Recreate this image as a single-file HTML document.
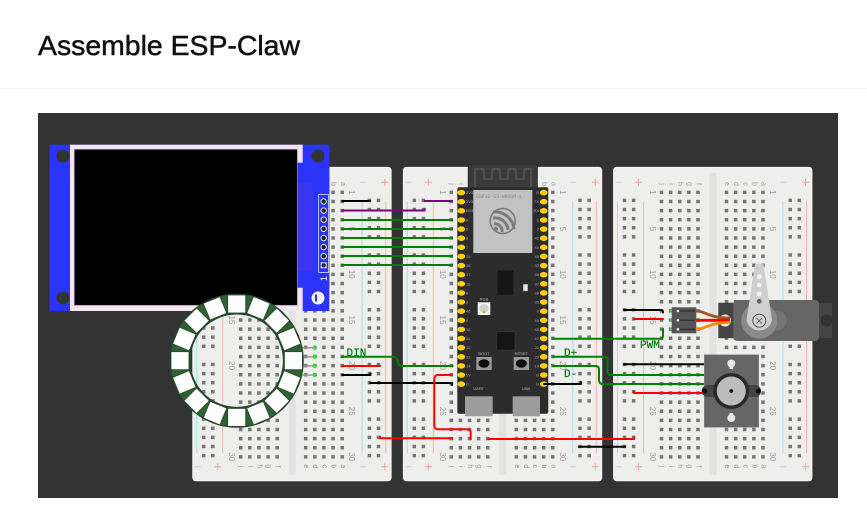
<!DOCTYPE html>
<html><head><meta charset="utf-8"><title>Assemble ESP-Claw</title>
<style>
html,body{margin:0;padding:0;background:#fff;width:867px;height:506px;overflow:hidden}
svg{display:block}
text{font-family:"Liberation Sans",sans-serif}
.n{font-size:8px;fill:#999;text-anchor:middle;dominant-baseline:central}
.m{font-size:7px;fill:#999;text-anchor:middle;dominant-baseline:central}
.l{font-size:4px;fill:#aaa}
.r{font-size:4px;fill:#aaa;text-anchor:end}
.t{font-size:4px;fill:#bbb;text-anchor:middle}
.w{fill:none;stroke-width:2;stroke-linejoin:round;stroke-linecap:round}
.lab{font-size:11px;fill:#008000;stroke:#008000;stroke-width:.2}
.d{filter:blur(.35px)}
</style></head><body>
<svg width="867" height="506" viewBox="0 0 867 506" xmlns="http://www.w3.org/2000/svg">
<defs>
<g id="pc" fill="#ffcf0a">
<ellipse cy="192.600" rx="3.800" ry="2.800"/><ellipse cy="201.700" rx="3.800" ry="2.800"/><ellipse cy="210.800" rx="3.800" ry="2.800"/><ellipse cy="220" rx="3.800" ry="2.800"/><ellipse cy="229.100" rx="3.800" ry="2.800"/><ellipse cy="238.200" rx="3.800" ry="2.800"/><ellipse cy="247.300" rx="3.800" ry="2.800"/><ellipse cy="256.400" rx="3.800" ry="2.800"/><ellipse cy="265.600" rx="3.800" ry="2.800"/><ellipse cy="274.700" rx="3.800" ry="2.800"/><ellipse cy="283.800" rx="3.800" ry="2.800"/><ellipse cy="292.900" rx="3.800" ry="2.800"/><ellipse cy="302" rx="3.800" ry="2.800"/><ellipse cy="311.200" rx="3.800" ry="2.800"/><ellipse cy="320.300" rx="3.800" ry="2.800"/><ellipse cy="329.400" rx="3.800" ry="2.800"/><ellipse cy="338.500" rx="3.800" ry="2.800"/><ellipse cy="347.600" rx="3.800" ry="2.800"/><ellipse cy="356.800" rx="3.800" ry="2.800"/><ellipse cy="365.900" rx="3.800" ry="2.800"/><ellipse cy="375" rx="3.800" ry="2.800"/><ellipse cy="384.100" rx="3.800" ry="2.800"/>
</g>
<g id="bb">
<rect x="0" y="0" width="198.500" height="313.500" rx="3" fill="#eeeeec" stroke="#f8f8f8" stroke-width="0.8"/>
<rect x="96" y="5.500" width="7" height="302" fill="#e2e2e2"/>
<line x1="4" y1="34" x2="4" y2="286" stroke="#a8dcea" stroke-width="1"/>
<line x1="30" y1="34" x2="30" y2="286" stroke="#f3b4ac" stroke-width="1"/>
<line x1="169.400" y1="34" x2="169.400" y2="286" stroke="#a8dcea" stroke-width="1"/>
<line x1="193" y1="34" x2="193" y2="286" stroke="#f3b4ac" stroke-width="1"/>
<g stroke-width="1" fill="none">
<path d="M2 15h6M167 15h6M2 299.500h6M167 299.500h6" stroke="#a8dcea"/>
<path d="M21.500 15h7M25 11.500v7M188.500 15h7M192 11.500v7M21.500 299.500h7M25 296v7M188.500 299.500h7M192 296v7" stroke="#f3a49c"/>
</g>
<g stroke="#767676" stroke-width="3.500" stroke-dasharray="3.500 5.620" fill="none">
<path d="M48 23.300V297M57.120 23.300V297M66.240 23.300V297M75.360 23.300V297M84.480 23.300V297M113 23.300V297M122.120 23.300V297M131.240 23.300V297M140.360 23.300V297M149.480 23.300V297"/>
</g>
<g stroke="#767676" stroke-width="3.500" stroke-dasharray="3.500 5.620 3.500 5.620 3.500 5.620 3.500 5.620 3.500 14.720" fill="none">
<path d="M11 31.300V296M20.120 31.300V296M176.700 31.300V296M185.820 31.300V296"/>
</g>
<text class="n" transform="translate(39,25) rotate(90)">1</text><text class="n" transform="translate(39,61.500) rotate(90)">5</text><text class="n" transform="translate(39,107) rotate(90)">10</text><text class="n" transform="translate(39,152.700) rotate(90)">15</text><text class="n" transform="translate(39,198.300) rotate(90)">20</text><text class="n" transform="translate(39,243.900) rotate(90)">25</text><text class="n" transform="translate(39,289.500) rotate(90)">30</text>
<text class="n" transform="translate(159,25) rotate(90)">1</text><text class="n" transform="translate(159,61.500) rotate(90)">5</text><text class="n" transform="translate(159,107) rotate(90)">10</text><text class="n" transform="translate(159,152.700) rotate(90)">15</text><text class="n" transform="translate(159,198.300) rotate(90)">20</text><text class="n" transform="translate(159,243.900) rotate(90)">25</text><text class="n" transform="translate(159,289.500) rotate(90)">30</text>
<text class="m" transform="translate(48,16.700) rotate(90)">j</text><text class="m" transform="translate(57.100,16.700) rotate(90)">i</text><text class="m" transform="translate(66.200,16.700) rotate(90)">h</text><text class="m" transform="translate(75.400,16.700) rotate(90)">g</text><text class="m" transform="translate(84.500,16.700) rotate(90)">f</text>
<text class="m" transform="translate(113,16.700) rotate(90)">e</text><text class="m" transform="translate(122,16.700) rotate(90)">d</text><text class="m" transform="translate(131.300,16.700) rotate(90)">c</text><text class="m" transform="translate(140.300,16.700) rotate(90)">b</text><text class="m" transform="translate(149.700,16.700) rotate(90)">a</text>
<text class="m" transform="translate(48,299) rotate(90)">j</text><text class="m" transform="translate(57.100,299) rotate(90)">i</text><text class="m" transform="translate(66.200,299) rotate(90)">h</text><text class="m" transform="translate(75.400,299) rotate(90)">g</text><text class="m" transform="translate(84.500,299) rotate(90)">f</text>
<text class="m" transform="translate(113,299) rotate(90)">e</text><text class="m" transform="translate(122,299) rotate(90)">d</text><text class="m" transform="translate(131.300,299) rotate(90)">c</text><text class="m" transform="translate(140.300,299) rotate(90)">b</text><text class="m" transform="translate(149.700,299) rotate(90)">a</text>
</g>
<rect id="led" x="227.700" y="295" width="18" height="18" fill="#fff" stroke="#24452a" stroke-width="0.8"/>
</defs>

<rect width="867" height="506" fill="#fff"/>
<text x="38" y="55" font-size="28" fill="#111" stroke="#111" stroke-width="0.5" textLength="262" lengthAdjust="spacingAndGlyphs">Assemble ESP-Claw</text>
<rect x="0" y="88" width="867" height="1" fill="#efefef"/>
<rect x="38" y="113" width="800" height="385" fill="#333333"/>

<g class="d">
<use href="#bb" x="192.700" y="167.300"/>
<use href="#bb" x="403.300" y="167.300"/>
<use href="#bb" x="613.500" y="167.300"/>

<!-- ESP32 board -->
<rect x="468.300" y="164.300" width="69" height="24" fill="#3a3a3a" stroke="#2b2b2b"/>
<path d="M475 187V169H484V179H492V169H500V179H508V169H516V179H524V169H531V187" fill="none" stroke="#5e5e5e" stroke-width="1.300"/>
<rect x="457.300" y="187.300" width="91" height="226.400" rx="2" fill="#2c2c2c"/>
<rect x="473.300" y="190" width="59" height="63" fill="#c2c2c2"/>
<text x="476" y="198" font-size="5" fill="#8a8a8a" style="font-family:'Liberation Mono',monospace" textLength="46">ESP32-S3-WROOM-1</text>
<circle cx="502.700" cy="221" r="12.500" fill="none" stroke="#7c7c7c" stroke-width="1.600"/>
<path d="M493 212a19 19 0 0 1 21 17M493 218a13 13 0 0 1 15 12M494 224a7 7 0 0 1 8 8" fill="none" stroke="#7c7c7c" stroke-width="3"/>
<circle cx="496" cy="229" r="2.200" fill="#7c7c7c"/>
<use href="#pc" x="461.300"/>
<use href="#pc" x="543.700"/>
<text class="l" x="466" y="194">3V3</text><text class="l" x="466" y="203">3V3</text><text class="l" x="466" y="212">RST</text><text class="l" x="466" y="221.500">4</text><text class="l" x="466" y="230.500">5</text><text class="l" x="466" y="239.700">6</text><text class="l" x="466" y="248.800">7</text><text class="l" x="466" y="258">15</text><text class="l" x="466" y="267">16</text><text class="l" x="466" y="276">17</text><text class="l" x="466" y="285.300">18</text><text class="l" x="466" y="294.400">8</text><text class="l" x="466" y="303.500">3</text><text class="l" x="466" y="312.700">46</text><text class="l" x="466" y="321.800">9</text><text class="l" x="466" y="330.900">10</text><text class="l" x="466" y="340">11</text><text class="l" x="466" y="349.100">12</text><text class="l" x="466" y="358.300">13</text><text class="l" x="466" y="367.400">14</text><text class="l" x="466" y="376.500">5V</text><text class="l" x="466" y="385.600">G</text>
<text class="r" x="539" y="194">G</text><text class="r" x="539" y="203">TX</text><text class="r" x="539" y="212">RX</text><text class="r" x="539" y="221.500">1</text><text class="r" x="539" y="230.500">2</text><text class="r" x="539" y="239.700">42</text><text class="r" x="539" y="248.800">41</text><text class="r" x="539" y="258">40</text><text class="r" x="539" y="267">39</text><text class="r" x="539" y="276">38</text><text class="r" x="539" y="285.300">37</text><text class="r" x="539" y="294.400">36</text><text class="r" x="539" y="303.500">35</text><text class="r" x="539" y="312.700">0</text><text class="r" x="539" y="321.800">45</text><text class="r" x="539" y="330.900">48</text><text class="r" x="539" y="340">47</text><text class="r" x="539" y="349.100">21</text><text class="r" x="539" y="358.300">20</text><text class="r" x="539" y="367.400">19</text><text class="r" x="539" y="376.500">G</text><text class="r" x="539" y="385.600">G</text>
<rect x="497.700" y="270.300" width="15.600" height="24.400" fill="#161616"/>
<rect x="523.300" y="284.300" width="4.400" height="6.700" fill="#e8e8e8" stroke="#888" stroke-width="0.4"/>
<text class="t" x="484" y="300.500">RGB</text>
<rect x="477.700" y="302.300" width="12.600" height="12.700" fill="#f5f5f5"/>
<circle cx="484" cy="308.500" r="4.600" fill="#d0d0d0"/><rect x="483" y="311" width="2" height="2" fill="#c8a020"/>
<rect x="496.700" y="331.700" width="18.300" height="18.300" rx="2" fill="#151515" stroke="#3c3c3c" stroke-width="0.5"/>
<text class="t" x="484" y="355">BOOT</text><text class="t" x="521.300" y="355">RESET</text>
<rect x="476.300" y="357" width="15.400" height="13" fill="#9a9a9a"/><ellipse cx="484" cy="363.500" rx="5.500" ry="4.300" fill="#0c0c0c"/>
<rect x="513.700" y="357" width="15.400" height="13" fill="#9a9a9a"/><ellipse cx="521.400" cy="363.500" rx="5.500" ry="4.300" fill="#0c0c0c"/>
<text class="t" x="478.700" y="390">UART</text><text class="t" x="526" y="390">USB</text>
<rect x="465" y="396.300" width="27.700" height="20" fill="#9c9c9c"/>
<rect x="512.700" y="396.300" width="27.300" height="20" fill="#9c9c9c"/>

<!-- wires -->
<g class="w">
<path d="M342.300 201H370" stroke="#000"/>
<path d="M342.300 210.500H424.700V209M424.700 201H452" stroke="#800080"/>
<path d="M342.300 220H452M342.300 229H452M342.300 238H452M342.300 247H452M342.300 256H452M342.300 265H452" stroke="#008000"/>
<path d="M342.300 356.700H393Q396 356.700 397 359L398 363Q399 366 402 366H452.700" stroke="#008000"/>
<path d="M342.300 366H380" stroke="#f00"/>
<path d="M342.300 375H370.500V373.500" stroke="#000"/>
<path d="M370 383H452V385" stroke="#000"/>
<path d="M380 436.800V438.300H452" stroke="#f00"/>
<path d="M451.700 375H438Q434.300 375 434.300 380V425Q434.300 429.300 438 429.300H467Q470.700 429.300 470.700 433V439" stroke="#f00"/>
<path d="M488 439H634V437.500" stroke="#f00"/>
<path d="M553 338.700H660Q663 338.700 663 335.700V329" stroke="#008000"/>
<path d="M553 356.700H604Q607.500 356.700 607.500 360V371Q607.500 375 611 375H704" stroke="#008000"/>
<path d="M553 366H595.500Q599 366 599 369.500V380Q599 384 603 384H704" stroke="#008000"/>
<path d="M544 384H581V382" stroke="#000"/>
<path d="M579 446.700H625" stroke="#000"/>
<path d="M624 310H661Q663 310 663 312.500" stroke="#000"/>
<path d="M634 319H663" stroke="#f00"/>
<path d="M624 364.300H704" stroke="#000"/>
<path d="M634 391V393H702" stroke="#f00"/>
</g>
<g style="font-family:'Liberation Mono',monospace">
<text class="lab" style="font-family:'Liberation Mono',monospace" x="346.500" y="356">DIN</text>
<text class="lab" style="font-family:'Liberation Mono',monospace" x="564" y="356">D+</text>
<text class="lab" style="font-family:'Liberation Mono',monospace" x="564" y="377">D-</text>
<text class="lab" style="font-family:'Liberation Mono',monospace" x="640" y="348">PWM</text>
</g>

<!-- Ring pins -->
<g stroke="#999" stroke-width="1.500"><path d="M300 347.700H315M300 356.700H315M300 365.800H315M300 375H315"/></g>
<g fill="#35d835"><circle cx="315" cy="347.700" r="2.100"/><circle cx="315" cy="356.700" r="2.100"/><circle cx="315" cy="365.800" r="2.100"/><circle cx="315" cy="375" r="2.100"/></g>

<!-- LCD -->
<rect x="49.700" y="144.700" width="279.600" height="166.300" fill="#2a34fb"/>
<rect x="70" y="144.700" width="232.700" height="166.300" fill="#f6e4f6"/>
<rect x="297.300" y="162.700" width="32" height="125" fill="#2a34fb"/>
<rect x="297.300" y="183" width="15.700" height="87.700" rx="2" fill="#3a35f2"/>
<rect x="74.300" y="149.300" width="223" height="156" fill="#000" stroke="#a58aa5" stroke-width="0.7"/>
<circle cx="63" cy="156" r="6.500" fill="#333"/><circle cx="318" cy="156" r="6.500" fill="#333"/><circle cx="63" cy="298" r="6.500" fill="#333"/>
<circle cx="318" cy="298" r="6.500" fill="#f3f3f3"/><rect x="315" y="294.500" width="2" height="7" fill="#2a34fb"/>
<rect x="318.600" y="194.500" width="10" height="78" fill="none" stroke="#c9c9ee" stroke-width="0.9"/>
<g fill="#222" stroke="#e6e6e6" stroke-width="1"><circle cx="323.700" cy="201.500" r="2.700"/><circle cx="323.700" cy="210.600" r="2.700"/><circle cx="323.700" cy="219.700" r="2.700"/><circle cx="323.700" cy="228.800" r="2.700"/><circle cx="323.700" cy="238" r="2.700"/><circle cx="323.700" cy="247.100" r="2.700"/><circle cx="323.700" cy="256.200" r="2.700"/></g>
<rect x="320.700" y="262.300" width="6" height="6" fill="#e6e6e6"/><circle cx="323.700" cy="265.300" r="2.200" fill="#222"/>
<text transform="translate(327,281) rotate(-90)" font-size="9" fill="#fff">1</text>

<!-- Neopixel ring -->
<circle cx="236.700" cy="360.700" r="57" fill="none" stroke="#2f6232" stroke-width="19.500"/>
<circle cx="236.700" cy="360.700" r="66.500" fill="none" stroke="#24482a" stroke-width="1.200"/>
<circle cx="236.700" cy="360.700" r="47" fill="none" stroke="#24482a" stroke-width="1.600"/>
<use href="#led"/>
<use href="#led" transform="rotate(22.500 236.700 360.700)"/>
<use href="#led" transform="rotate(45 236.700 360.700)"/>
<use href="#led" transform="rotate(67.500 236.700 360.700)"/>
<use href="#led" transform="rotate(90 236.700 360.700)"/>
<use href="#led" transform="rotate(112.500 236.700 360.700)"/>
<use href="#led" transform="rotate(135 236.700 360.700)"/>
<use href="#led" transform="rotate(157.500 236.700 360.700)"/>
<use href="#led" transform="rotate(180 236.700 360.700)"/>
<use href="#led" transform="rotate(202.500 236.700 360.700)"/>
<use href="#led" transform="rotate(225 236.700 360.700)"/>
<use href="#led" transform="rotate(247.500 236.700 360.700)"/>
<use href="#led" transform="rotate(270 236.700 360.700)"/>
<use href="#led" transform="rotate(292.500 236.700 360.700)"/>
<use href="#led" transform="rotate(315 236.700 360.700)"/>
<use href="#led" transform="rotate(337.500 236.700 360.700)"/>

<!-- Servo -->
<g fill="#35d835"><rect x="670" y="309.500" width="3" height="3"/><rect x="670" y="318.800" width="3" height="3"/><rect x="670" y="327.800" width="3" height="3"/></g>
<rect x="671.700" y="307.300" width="24.600" height="26" fill="#555"/>
<path d="M677 311H695M677 320.300H695M677 329.300H695" stroke="#333" stroke-width="1.400"/>
<g fill="#eee"><circle cx="678" cy="311" r="1.300"/><circle cx="678" cy="320.300" r="1.300"/><circle cx="678" cy="329.300" r="1.300"/></g>
<rect x="718.300" y="302.700" width="16" height="35.500" fill="#444"/>
<circle cx="725" cy="320.500" r="6" fill="#eee"/>
<path d="M696 311C706 311 708 318 730 318" fill="none" stroke="#a5521c" stroke-width="2.800"/>
<path d="M696 320.300H730" fill="none" stroke="#f00" stroke-width="2.800"/>
<path d="M696 329.300C706 329.300 708 322.500 730 322.500" fill="none" stroke="#ff8a00" stroke-width="2.800"/>
<rect x="819" y="303" width="13" height="35" fill="#444"/>
<circle cx="826.500" cy="320.500" r="6" fill="#333"/>
<rect x="733.300" y="300" width="85.700" height="41" rx="4" fill="#666"/>
<circle cx="776.700" cy="320.500" r="10" fill="#757575"/>
<circle cx="759.300" cy="320.700" r="18" fill="#8a8a8a"/>
<path d="M755 264.500Q759 262.500 763.500 264.500L772 320A13 13 0 0 1 746.500 320Z" fill="#cfcfcf"/>
<g fill="#f2f2f2"><circle cx="759.200" cy="276.700" r="2.400"/><circle cx="759.200" cy="285" r="2.400"/><circle cx="759.200" cy="294" r="2.400"/></g>
<circle cx="759.200" cy="301.300" r="2.400" fill="#666"/>
<circle cx="759.300" cy="320.700" r="6.500" fill="#d2d2d2" stroke="#444" stroke-width="0.9"/>
<path d="M756.500 318L762 323.500M762 318L756.500 323.500" stroke="#444" stroke-width="0.8"/>

<!-- Encoder -->
<rect x="704.300" y="354.700" width="54.400" height="72.600" fill="#666" stroke="#8a8a8a" stroke-width="0.5"/>
<rect x="701.700" y="385" width="59.300" height="12" rx="6" fill="#444"/>
<circle cx="704.700" cy="391" r="2.600" fill="#111"/><circle cx="758.300" cy="391" r="2.600" fill="#111"/>
<circle cx="731.300" cy="391" r="18" fill="#2a2a2a"/>
<circle cx="731.300" cy="391" r="14.500" fill="#bcbcbc"/>
<circle cx="731.300" cy="391" r="1.900" fill="#111"/>
<g fill="#e8e8e8"><circle cx="731.300" cy="363.500" r="4"/><rect x="729.500" y="364" width="3.600" height="5"/><circle cx="731.300" cy="418" r="4"/><rect x="729.500" y="413" width="3.600" height="5"/></g>
</g>
</svg>
</body></html>
